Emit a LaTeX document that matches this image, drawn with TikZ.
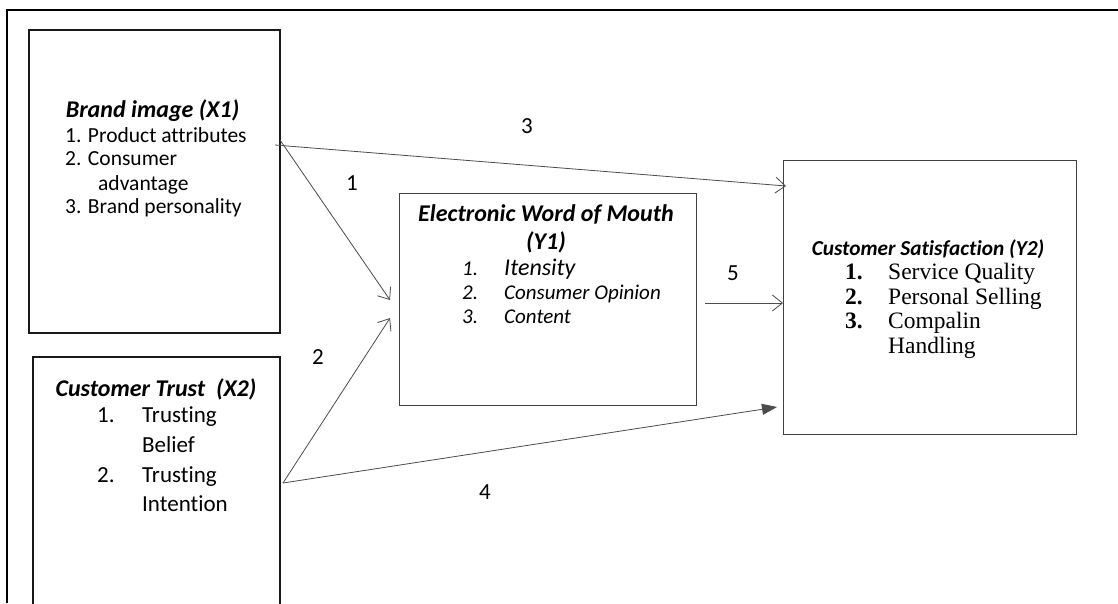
\documentclass[tikz,border=0pt]{standalone}
\usepackage{fontspec}
\setmainfont[Ligatures={NoCommon}]{Carlito}
\newfontfamily\tnr{Liberation Serif}
\usetikzlibrary{arrows.meta,calc}
\tikzset{
  thickbox/.style={draw=black!90, line width=1.8pt, minimum width=#1, inner sep=0pt, outer sep=0pt},
  thinbox/.style={draw=black!75, line width=0.9pt, inner sep=0pt, outer sep=0pt},
  txt/.style={inner sep=0pt, anchor=base west, font=\fontsize{21.5}{24}\selectfont},
  ttl/.style={inner sep=0pt, anchor=base, font=\fontsize{24}{26}\selectfont\bfseries\itshape},
  lbl/.style={inner sep=0pt, font=\fontsize{23}{24}\selectfont},
  con/.style={draw=black!70, line width=0.8pt},
  openarr/.style={con, -{Straight Barb[length=10pt, width=16pt, line width=0.8pt]}},
  fillarr/.style={con, -{Triangle[length=15pt, width=11pt]}, }
}
\begin{document}
\begin{tikzpicture}[x=1pt, y=-1pt]
\clip (0,0) rectangle (1118,603);
\fill[white] (0,0) rectangle (1118,603);
% outer frame
\draw[line width=1.3pt] (7,603) -- (7,10) -- (1118,10);
% boxes
\node[thickbox=251pt, minimum height=303pt] (x1) at (154.5,181.5) {};
\node[thickbox=247pt, minimum height=283pt] (x2) at (156.5,498.5) {};
\node[thinbox, minimum width=297pt, minimum height=212pt] (y1) at (547.5,299) {};
\node[thinbox, minimum width=293pt, minimum height=274pt] (y2) at (929.5,297) {};
% X1 text
\node[ttl] (x1t) at (152.5,117) {Brand image (X1)};
\node[txt] (x1a) at (65,142) {1. Product attributes};
\node[txt] (x1b) at (65,165) {2. Consumer};
\node[txt] (x1c) at (98,190) {advantage};
\node[txt] (x1d) at (65,213) {3. Brand personality};
% X2 text
\node[ttl] (x2t) at (156,396) {Customer Trust\ \ (X2)};
\node[txt, font=\fontsize{23}{26}\selectfont] (x2a) at (97,422) {1.};
\node[txt, font=\fontsize{23}{26}\selectfont] (x2b) at (142,422) {Trusting};
\node[txt, font=\fontsize{23}{26}\selectfont] (x2c) at (142,452) {Belief};
\node[txt, font=\fontsize{23}{26}\selectfont] (x2d) at (97,482) {2.};
\node[txt, font=\fontsize{23}{26}\selectfont] (x2e) at (142,482) {Trusting};
\node[txt, font=\fontsize{23}{26}\selectfont] (x2f) at (142,511) {Intention};
% Y1 text
\node[ttl] (y1t) at (546,221) {Electronic Word of Mouth};
\node[ttl] (y1u) at (546,249) {(Y1)};
\node[txt, font=\fontsize{21}{24}\selectfont\itshape] (y1a) at (462,275) {1.};
\node[txt, font=\fontsize{24}{26}\selectfont\itshape] (y1b) at (504,275) {Itensity};
\node[txt, font=\fontsize{21}{24}\selectfont\itshape] (y1c) at (462,299) {2.};
\node[txt, font=\fontsize{21}{24}\selectfont\itshape] (y1d) at (504,299) {Consumer Opinion};
\node[txt, font=\fontsize{21}{24}\selectfont\itshape] (y1e) at (462,323) {3.};
\node[txt, font=\fontsize{21}{24}\selectfont\itshape] (y1f) at (504,323) {Content};
% Y2 text
\node[ttl, font=\fontsize{21.3}{24}\selectfont\bfseries\itshape] (y2t) at (928,255) {Customer Satisfaction (Y2)};
\node[txt, font=\fontsize{23.5}{26}\selectfont\tnr\bfseries] (y2a) at (845,279) {1.};
\node[txt, font=\fontsize{23.5}{26}\selectfont\tnr] (y2b) at (888,279) {Service Quality};
\node[txt, font=\fontsize{23.5}{26}\selectfont\tnr\bfseries] (y2c) at (845,304) {2.};
\node[txt, font=\fontsize{23.5}{26}\selectfont\tnr] (y2d) at (888,304) {Personal Selling};
\node[txt, font=\fontsize{23.5}{26}\selectfont\tnr\bfseries] (y2e) at (845,328) {3.};
\node[txt, font=\fontsize{23.5}{26}\selectfont\tnr] (y2f) at (888,328) {Compalin};
\node[txt, font=\fontsize{23.5}{26}\selectfont\tnr] (y2g) at (888,353) {Handling};
% connector end points
\coordinate (s1) at ($(x1.north east)+(0,110)$);
\coordinate (s3) at ($(x1.north east)+(-5,115)$);
\coordinate (s2) at ($(x2.north east)+(3,126)$);
\coordinate (e1) at ($(y1.west)+(-9,1)$);
\coordinate (e2) at ($(y1.west)+(-9,19)$);
\coordinate (e3) at ($(y2.north west)+(3,26)$);
\coordinate (e4) at ($(y2.north west)+(-6,247)$);
\coordinate (s5) at ($(y1.east)+(9,4)$);
\coordinate (e5) at ($(y2.west)+(0,6)$);
% connectors
\draw[openarr] (s3) -- (e3);
\draw[openarr] (s1) -- (e1);
\draw[openarr] (s2) -- (e2);
\draw[fillarr] (s2) -- (e4);
\draw[openarr] (s5) -- (e5);
% labels
\node[lbl] (l3) at (527,126) {3};
\node[lbl] (l1) at (352,183) {1};
\node[lbl] (l5) at (733,273) {5};
\node[lbl] (l2) at (318,357) {2};
\node[lbl] (l4) at (485,492) {4};
\end{tikzpicture}
\end{document}
